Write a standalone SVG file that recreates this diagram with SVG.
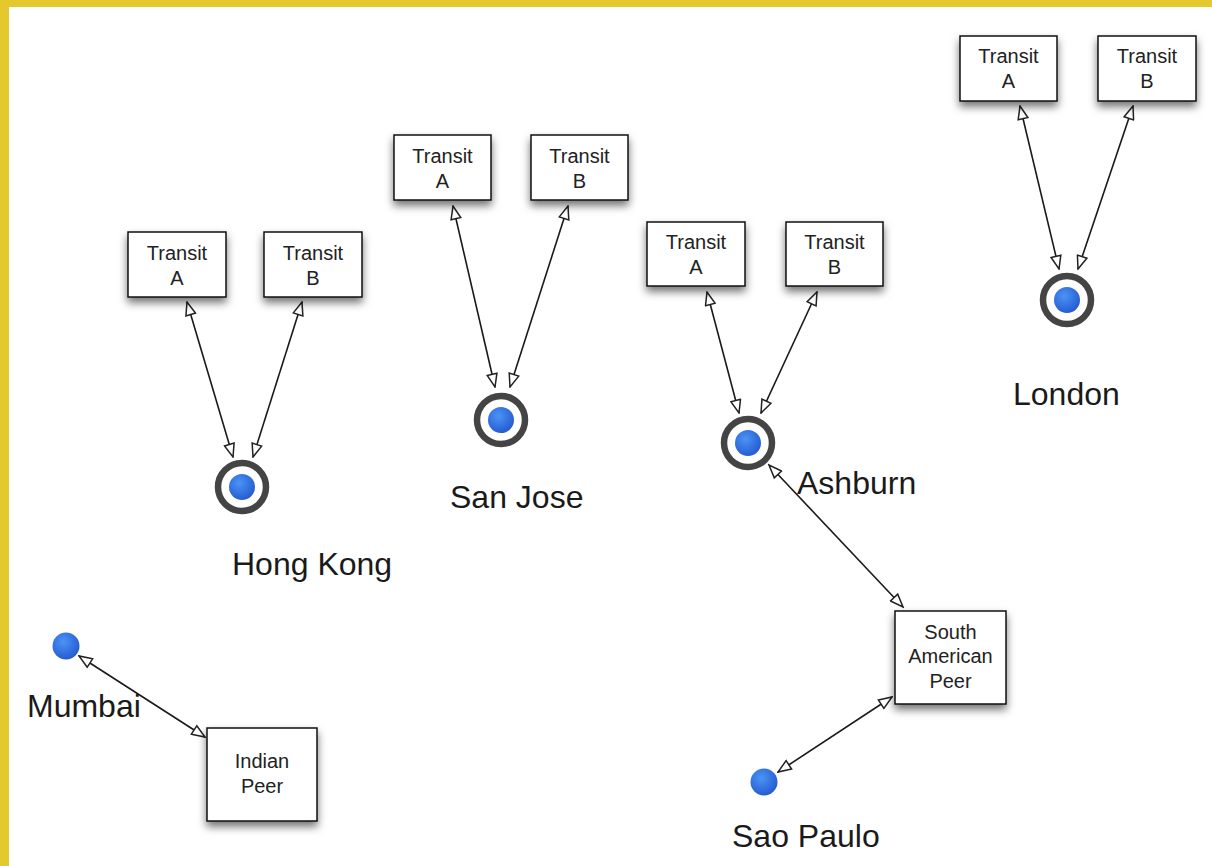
<svg xmlns="http://www.w3.org/2000/svg" width="1212" height="866" viewBox="0 0 1212 866">
<defs>
<style>
.box{fill:#fff;stroke:#111;stroke-width:1.5;filter:url(#sh)}
.bt{font-family:"Liberation Sans",Arial,sans-serif;font-size:20px;fill:#222;text-anchor:middle}
.lbl{font-family:"Liberation Sans",Arial,sans-serif;font-size:32px;fill:#1a1a1a}
.ring{fill:#fff;stroke:#444;stroke-width:6.5}
.dot{fill:url(#bg)}
.con line{stroke:#1a1a1a;stroke-width:1.6;marker-start:url(#ah);marker-end:url(#ah)}
</style>
<filter id="sh" x="-20%" y="-20%" width="140%" height="150%">
<feDropShadow dx="0" dy="5" stdDeviation="4" flood-color="#000" flood-opacity="0.55"/>
</filter>
<radialGradient id="bg" cx="40%" cy="35%" r="70%">
<stop offset="0" stop-color="#4a94f5"/>
<stop offset="1" stop-color="#2458cf"/>
</radialGradient>
<marker id="ah" markerUnits="userSpaceOnUse" markerWidth="16" markerHeight="12" refX="13" refY="5" orient="auto-start-reverse" viewBox="-1 -1 15 12">
<path d="M0,0 L13,5 L0,10 Z" fill="#fff" stroke="#222" stroke-width="1.5" stroke-linejoin="miter"/>
</marker>
</defs>
<rect x="0" y="0" width="1212" height="866" fill="#fff"/>
<rect x="0" y="0" width="1212" height="7" fill="#e5c82b"/>
<rect x="0" y="0" width="9" height="866" fill="#e5c82b"/>

<g id="connectors" class="con">
<line x1="187" y1="302" x2="233" y2="457"/>
<line x1="302" y1="302" x2="253" y2="457"/>
<line x1="453" y1="206" x2="495" y2="387"/>
<line x1="568" y1="206" x2="510" y2="387"/>
<line x1="707" y1="292" x2="739" y2="413"/>
<line x1="817" y1="292" x2="761" y2="413"/>
<line x1="1020" y1="106" x2="1059" y2="269"/>
<line x1="1133" y1="106" x2="1078" y2="269"/>
<line x1="769" y1="465" x2="903" y2="607"/>
<line x1="79" y1="656" x2="205" y2="737"/>
<line x1="778" y1="772" x2="892" y2="697"/>
</g>

<g id="hk-transit-a"><rect class="box" x="128" y="232" width="98" height="65"/><text class="bt" x="177" y="260">Transit</text><text class="bt" x="177" y="285">A</text></g>
<g id="hk-transit-b"><rect class="box" x="264" y="232" width="98" height="65"/><text class="bt" x="313" y="260">Transit</text><text class="bt" x="313" y="285">B</text></g>
<g id="hong-kong"><circle class="ring" cx="242" cy="487" r="24"/><circle class="dot" cx="242" cy="487" r="13"/><text class="lbl" x="232" y="575">Hong Kong</text></g>

<g id="sj-transit-a"><rect class="box" x="394" y="135" width="97" height="65"/><text class="bt" x="442.5" y="163">Transit</text><text class="bt" x="442.5" y="188">A</text></g>
<g id="sj-transit-b"><rect class="box" x="531" y="135" width="97" height="65"/><text class="bt" x="579.5" y="163">Transit</text><text class="bt" x="579.5" y="188">B</text></g>
<g id="san-jose"><circle class="ring" cx="501" cy="420" r="24"/><circle class="dot" cx="501" cy="420" r="13"/><text class="lbl" x="450" y="508">San Jose</text></g>

<g id="ash-transit-a"><rect class="box" x="647" y="222" width="98" height="64"/><text class="bt" x="696" y="249">Transit</text><text class="bt" x="696" y="274">A</text></g>
<g id="ash-transit-b"><rect class="box" x="786" y="222" width="97" height="64"/><text class="bt" x="834.5" y="249">Transit</text><text class="bt" x="834.5" y="274">B</text></g>
<g id="ashburn"><circle class="ring" cx="748" cy="443" r="24"/><circle class="dot" cx="748" cy="443" r="13"/><text class="lbl" x="797" y="494">Ashburn</text></g>

<g id="lon-transit-a"><rect class="box" x="960" y="36" width="97" height="65"/><text class="bt" x="1008.5" y="63">Transit</text><text class="bt" x="1008.5" y="88">A</text></g>
<g id="lon-transit-b"><rect class="box" x="1098" y="36" width="98" height="65"/><text class="bt" x="1147" y="63">Transit</text><text class="bt" x="1147" y="88">B</text></g>
<g id="london"><circle class="ring" cx="1067" cy="300" r="24"/><circle class="dot" cx="1067" cy="300" r="13"/><text class="lbl" x="1013" y="405">London</text></g>

<g id="mumbai"><circle class="dot" cx="66" cy="646" r="13.5"/><text class="lbl" x="27" y="717">Mumbai</text></g>
<g id="indian-peer"><rect class="box" x="207" y="728" width="110" height="93"/><text class="bt" x="262" y="768">Indian</text><text class="bt" x="262" y="793">Peer</text></g>

<g id="south-american-peer"><rect class="box" x="895" y="611" width="111" height="93"/><text class="bt" x="950.5" y="639">South</text><text class="bt" x="950.5" y="663">American</text><text class="bt" x="950.5" y="688">Peer</text></g>
<g id="sao-paulo"><circle class="dot" cx="764" cy="782" r="13.5"/><text class="lbl" x="732" y="847">Sao Paulo</text></g>
</svg>
